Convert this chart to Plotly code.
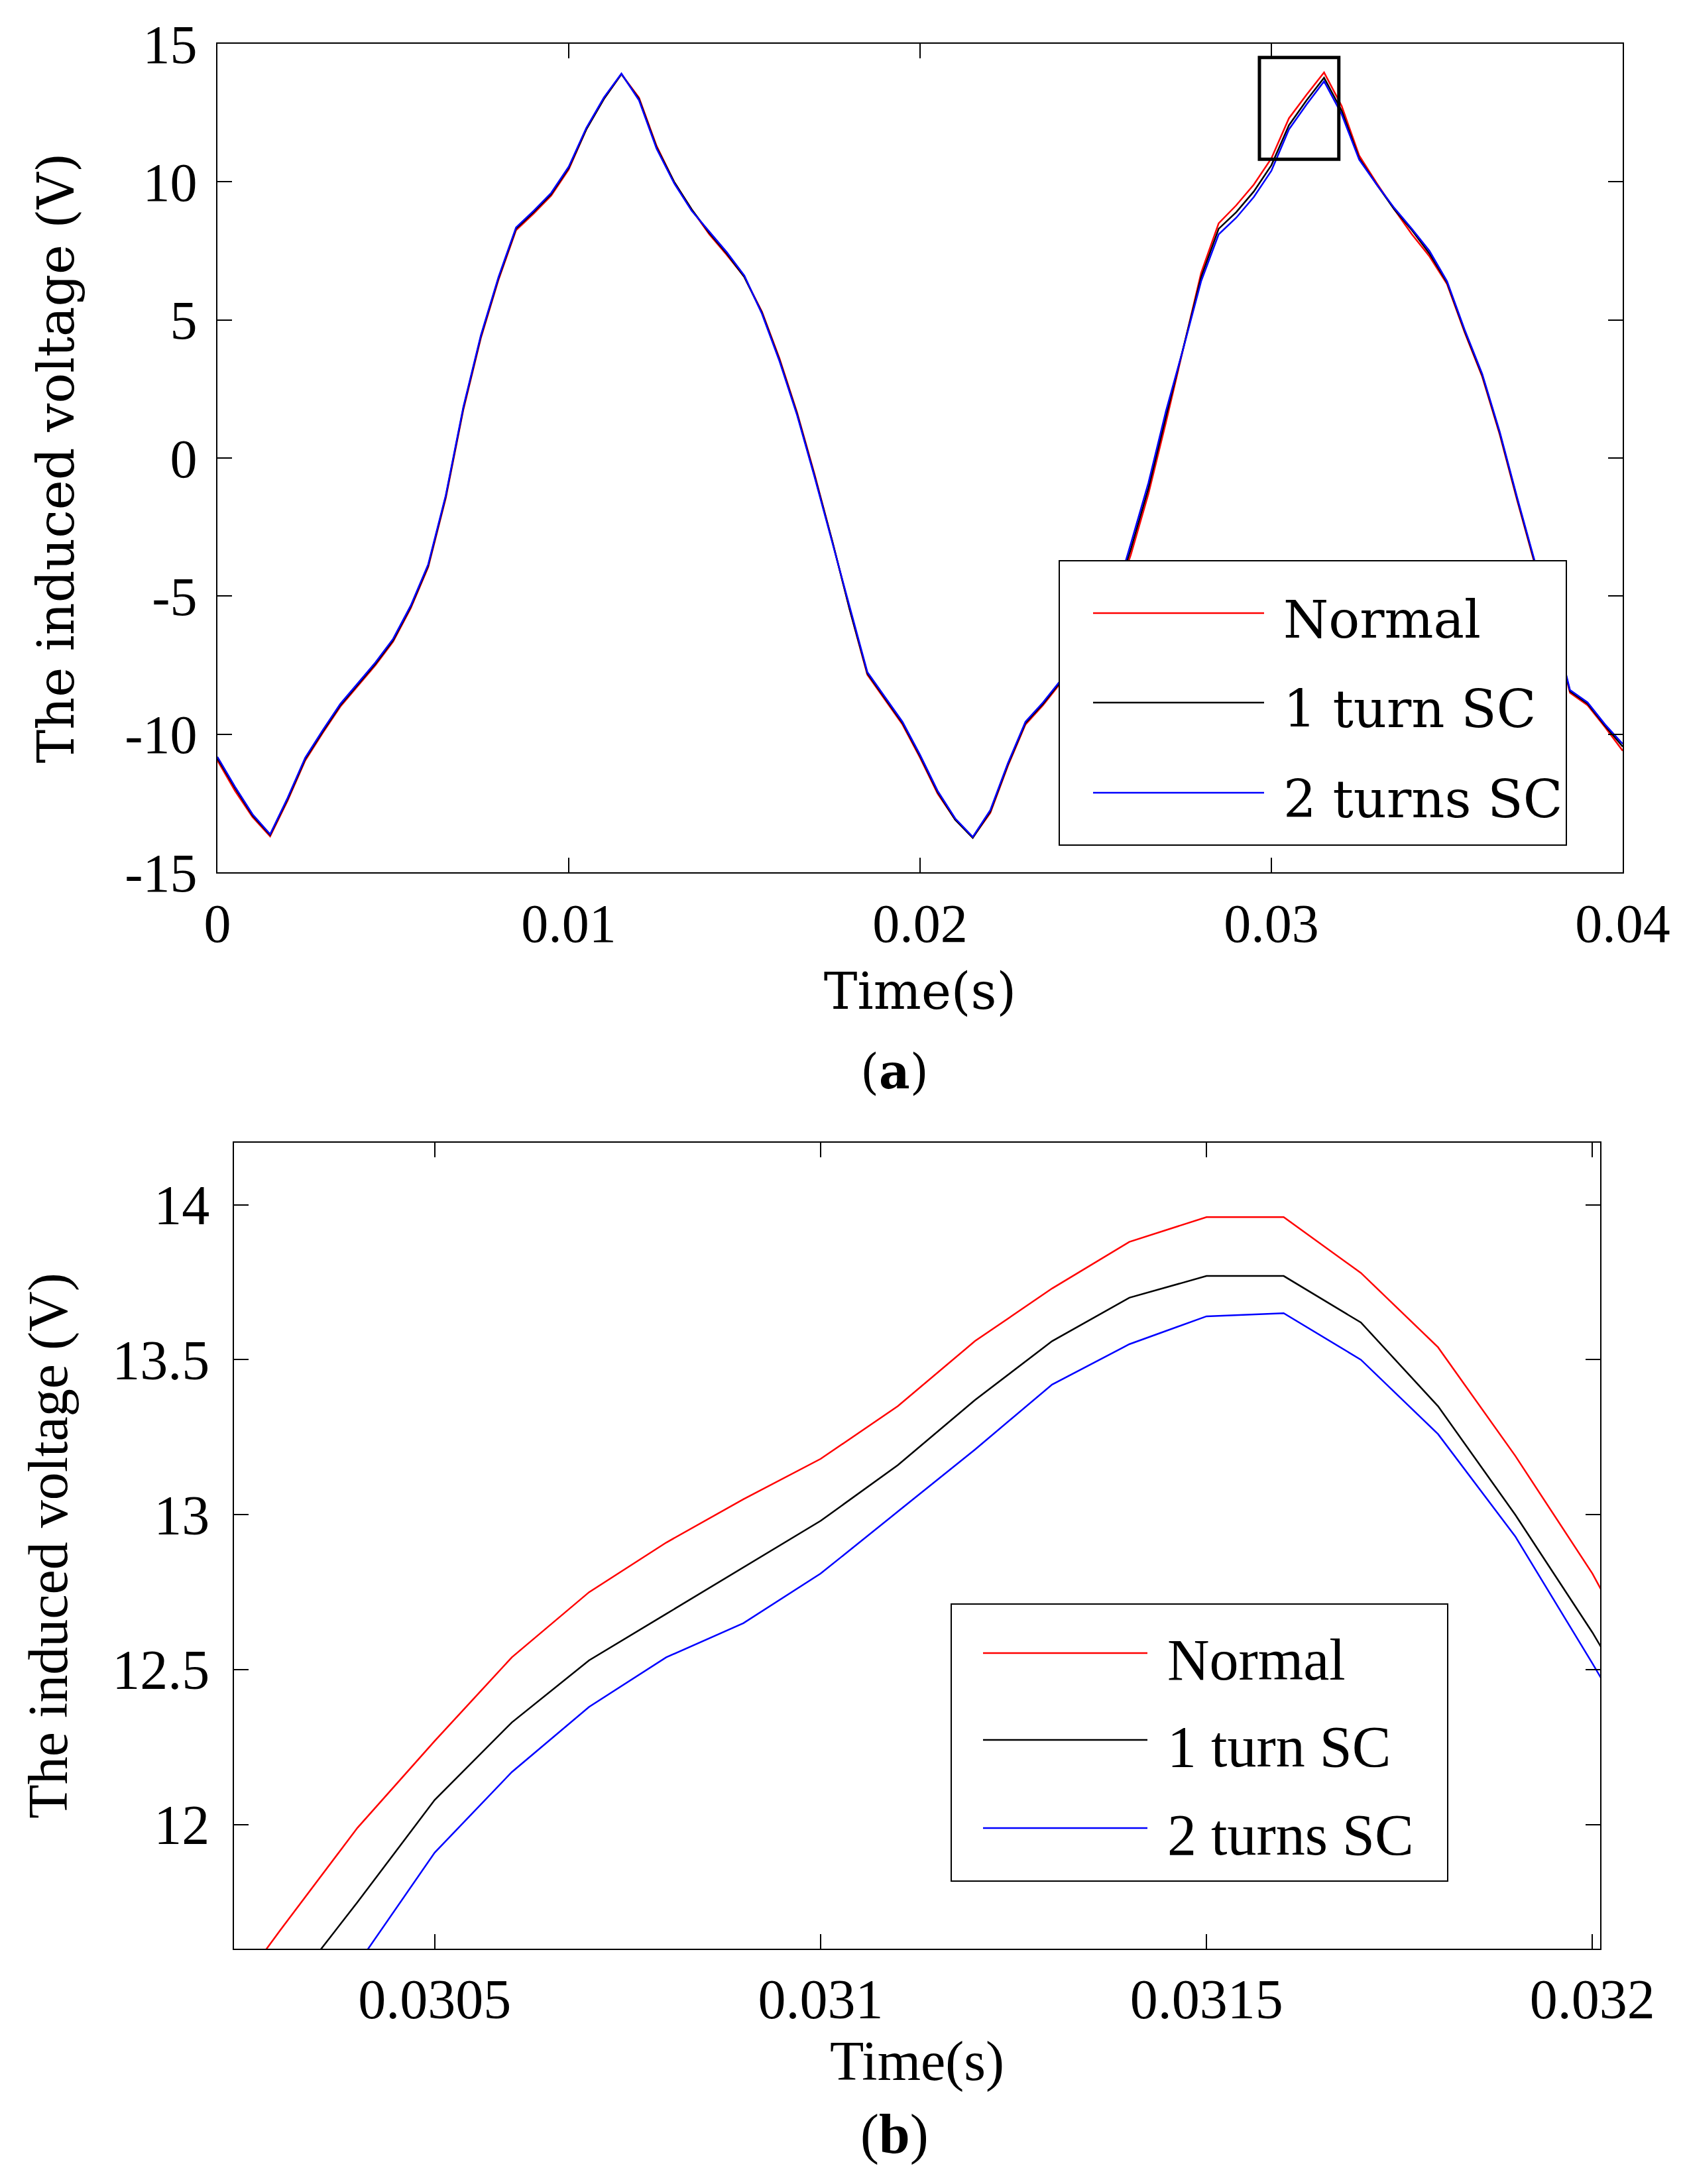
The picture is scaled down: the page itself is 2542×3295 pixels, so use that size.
import plotly.graph_objects as go

# --- data ---
series_names = ["Normal", "1 turn SC", "2 turns SC"]
series_colors = ["#ff0000", "#000000", "#0000ff"]

# (a) full waveform, sampled every 0.5 ms
time_s = [round(i * 0.0005, 4) for i in range(81)]

normal = [-10.95, -12.05, -13.0, -13.7, -12.4, -10.95, -9.95, -9.0, -8.25, -7.5,
          -6.65, -5.45, -3.95, -1.45, 1.75, 4.35, 6.45, 8.25, 8.85, 9.5,
          10.45, 11.9, 13.0, 13.9, 13.05, 11.3, 10.0, 9.0, 8.1, 7.35,
          6.55, 5.3, 3.6, 1.65, -0.6, -3.0, -5.5, -7.85, -8.75, -9.65,
          -10.85, -12.15, -13.1, -13.75, -12.85, -11.15, -9.65, -8.95, -8.15, -7.4,
          -6.55, -5.35, -3.5, -1.3, 1.3, 4.0, 6.7, 8.5, 9.15, 9.9,
          10.85, 12.3, 13.15, 13.96, 12.75, 10.95, 9.95, 9.0, 8.1, 7.3,
          6.3, 4.55, 2.95, 0.85, -1.55, -3.85, -5.95, -8.5, -8.95, -9.75,
          -10.6]
one_turn = [-10.88, -11.95, -12.95, -13.65, -12.35, -10.9, -9.9, -8.95, -8.2, -7.45,
            -6.6, -5.4, -3.9, -1.4, 1.8, 4.4, 6.5, 8.3, 8.9, 9.55,
            10.5, 11.9, 13.0, 13.9, 13.0, 11.25, 10.0, 9.0, 8.15, 7.4,
            6.55, 5.26, 3.55, 1.6, -0.65, -3.0, -5.5, -7.8, -8.7, -9.6,
            -10.8, -12.1, -13.1, -13.75, -12.8, -11.1, -9.6, -8.9, -8.1, -7.35,
            -6.5, -5.3, -3.3, -1.1, 1.5, 4.0, 6.55, 8.3, 8.9, 9.65,
            10.6, 12.05, 12.95, 13.77, 12.58, 10.85, 9.9, 9.0, 8.25, 7.4,
            6.35, 4.6, 3.0, 0.9, -1.5, -3.8, -5.9, -8.45, -8.9, -9.7,
            -10.45]
two_turns = [-10.82, -11.9, -12.9, -13.62, -12.3, -10.85, -9.85, -8.9, -8.15, -7.4,
             -6.55, -5.35, -3.85, -1.35, 1.85, 4.45, 6.55, 8.35, 8.95, 9.6,
             10.55, 11.95, 13.05, 13.92, 12.95, 11.2, 9.95, 8.95, 8.2, 7.45,
             6.6, 5.22, 3.5, 1.55, -0.7, -3.05, -5.45, -7.75, -8.65, -9.55,
             -10.75, -12.05, -13.05, -13.72, -12.75, -11.05, -9.55, -8.85, -8.05, -7.3,
             -6.45, -5.25, -3.1, -0.9, 1.7, 4.0, 6.4, 8.1, 8.7, 9.45,
             10.4, 11.9, 12.8, 13.64, 12.45, 10.8, 9.9, 9.05, 8.3, 7.5,
             6.4, 4.65, 3.05, 0.95, -1.45, -3.75, -5.85, -8.4, -8.85, -9.65,
             -10.35]

# (b) zoom on the second positive peak
zoom_time = [round(0.0302 + i * 0.0001, 4) for i in range(20)]
zoom_normal = [11.32, 11.66, 11.99, 12.27, 12.54, 12.75, 12.91, 13.05, 13.18, 13.35,
               13.56, 13.73, 13.88, 13.96, 13.96, 13.78, 13.54, 13.19, 12.81, 12.35]
zoom_one_turn = [11.12, 11.43, 11.75, 12.08, 12.33, 12.53, 12.68, 12.83, 12.98, 13.16,
                 13.37, 13.56, 13.70, 13.77, 13.77, 13.62, 13.35, 13.00, 12.62, 12.20]
zoom_two_turns = [10.85, 11.2, 11.55, 11.91, 12.17, 12.38, 12.54, 12.65, 12.81, 13.01,
                  13.21, 13.42, 13.55, 13.64, 13.65, 13.50, 13.26, 12.93, 12.52, 12.10]

top_xticks = [0, 0.01, 0.02, 0.03, 0.04]
top_xlabels = ["0", "0.01", "0.02", "0.03", "0.04"]
top_yticks = [-15, -10, -5, 0, 5, 10, 15]
top_ylabels = ["-15", "-10", "-5", "0", "5", "10", "15"]
bot_xticks = [0.0305, 0.031, 0.0315, 0.032]
bot_xlabels = ["0.0305", "0.031", "0.0315", "0.032"]
bot_yticks = [12, 12.5, 13, 13.5, 14]
bot_ylabels = ["12", "12.5", "13", "13.5", "14"]

W, H = 2542, 3295
TOP_FONT = "DejaVu Serif"
BOT_FONT = "Liberation Serif"


def px(x):
    return x / W


def py(y):
    return 1 - y / H


fig = go.Figure()

for name, color, ys in zip(series_names, series_colors, [normal, one_turn, two_turns]):
    fig.add_trace(go.Scatter(x=time_s, y=ys, mode="lines", name=name,
                             line=dict(color=color, width=2.5),
                             xaxis="x", yaxis="y", showlegend=False))

for name, color, ys in zip(series_names, series_colors, [zoom_normal, zoom_one_turn, zoom_two_turns]):
    fig.add_trace(go.Scatter(x=zoom_time, y=ys, mode="lines", name=name,
                             line=dict(color=color, width=2.5),
                             xaxis="x2", yaxis="y2", showlegend=False))


def axis_style(font, size):
    return dict(showline=True, linecolor="black", linewidth=2, mirror="ticks",
                ticks="inside", ticklen=22, tickwidth=2, tickcolor="black",
                showgrid=False, zeroline=False, automargin=False,
                tickfont=dict(family=font, size=size, color="black"))


fig.update_layout(
    width=W, height=H,
    margin=dict(l=0, r=0, t=0, b=0, autoexpand=False),
    paper_bgcolor="white", plot_bgcolor="white",
    xaxis=dict(domain=[px(320), px(2440)], anchor="y", range=[0, 0.04],
               tickvals=top_xticks, ticktext=top_xlabels, ticklabelstandoff=5,
               title=dict(text="Time(s)", standoff=30,
                          font=dict(family=TOP_FONT, size=76, color="black")),
               **axis_style(BOT_FONT, 82)),
    yaxis=dict(domain=[py(1308), py(58)], anchor="x", range=[-15, 15],
               tickvals=top_yticks, ticktext=top_ylabels, ticklabelstandoff=12,
               title=dict(text="The induced voltage (V)", standoff=52,
                          font=dict(family=TOP_FONT, size=76, color="black")),
               **axis_style(BOT_FONT, 82)),
    xaxis2=dict(domain=[px(345), px(2406)], anchor="y2", range=[0.03024, 0.03201],
                tickvals=bot_xticks, ticktext=bot_xlabels, ticklabelstandoff=2,
                title=dict(text="Time(s)", standoff=12,
                           font=dict(family=BOT_FONT, size=84, color="black")),
                **axis_style(BOT_FONT, 84)),
    yaxis2=dict(domain=[py(2932), py(1716)], anchor="x2", range=[11.6, 14.2],
                tickvals=bot_yticks, ticktext=bot_ylabels, ticklabelstandoff=18,
                title=dict(text="The induced voltage (V)", standoff=40,
                           font=dict(family=BOT_FONT, size=84, color="black")),
                **axis_style(BOT_FONT, 84)),
)

# zoom window marker on (a)
fig.add_shape(type="rect", xref="x", yref="y", x0=0.02966, x1=0.03192, y0=10.82, y1=14.5,
              line=dict(color="black", width=5))

# hand-drawn legends (long line samples like the original)
legends = [
    dict(box=(1590, 2355, 838, 1267), line_x=(1641, 1899), rows=(917, 1052, 1188),
         text_x=1926, font=TOP_FONT, size=78),
    dict(box=(1427, 2176, 2412, 2830), line_x=(1475, 1723), rows=(2486, 2617, 2750),
         text_x=1751, font=BOT_FONT, size=88),
]
for lg in legends:
    x0, x1, y0, y1 = lg["box"]
    fig.add_shape(type="rect", xref="paper", yref="paper",
                  x0=px(x0), x1=px(x1), y0=py(y1), y1=py(y0),
                  line=dict(color="black", width=2), fillcolor="white", layer="above")
    for name, color, row in zip(series_names, series_colors, lg["rows"]):
        fig.add_shape(type="line", xref="paper", yref="paper",
                      x0=px(lg["line_x"][0]), x1=px(lg["line_x"][1]), y0=py(row), y1=py(row),
                      line=dict(color=color, width=2.5), layer="above")
        fig.add_annotation(xref="paper", yref="paper", x=px(lg["text_x"]), y=py(row + 10),
                           xanchor="left", yanchor="middle", showarrow=False, text=name,
                           font=dict(family=lg["font"], size=lg["size"], color="black"))

fig.add_annotation(xref="paper", yref="paper", x=px(1341), y=py(1608), showarrow=False,
                   xanchor="center", yanchor="middle",
                   text="(<b>a</b>)", font=dict(family=TOP_FONT, size=72, color="black"))
fig.add_annotation(xref="paper", yref="paper", x=px(1341), y=py(3212), showarrow=False,
                   xanchor="center", yanchor="middle",
                   text="(<b>b</b>)", font=dict(family=BOT_FONT, size=84, color="black"))

fig.write_html("out.html")
